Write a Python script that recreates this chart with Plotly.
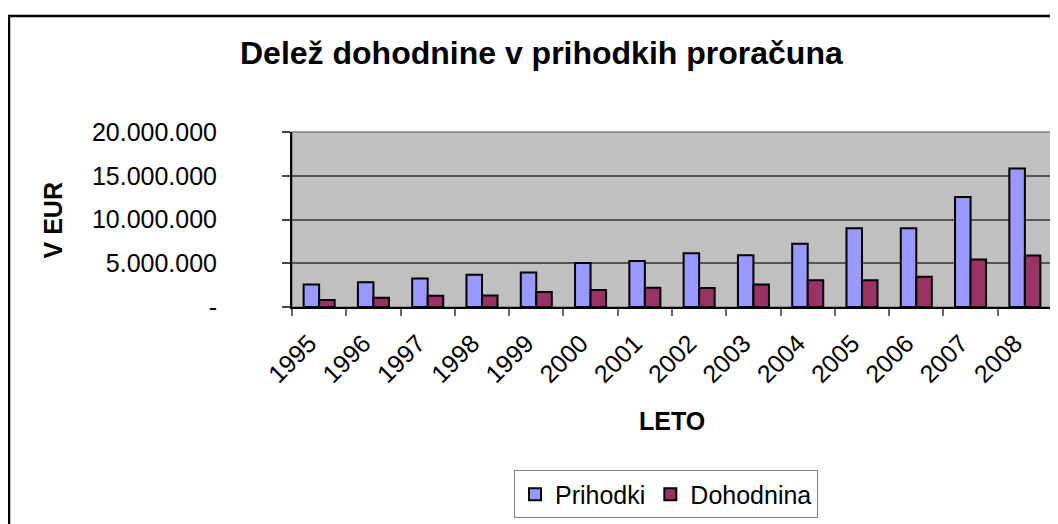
import plotly.graph_objects as go

# ---- data ----
years = ["1995", "1996", "1997", "1998", "1999", "2000", "2001",
         "2002", "2003", "2004", "2005", "2006", "2007", "2008"]
prihodki = [2570000, 2830000, 3270000, 3680000, 3930000, 5030000, 5250000,
            6140000, 5920000, 7240000, 9000000, 9000000, 12580000, 15820000]
dohodnina = [800000, 1060000, 1280000, 1300000, 1720000, 1940000, 2200000,
             2170000, 2570000, 3050000, 3050000, 3450000, 5440000, 5880000]
y_tickvals = [0, 5000000, 10000000, 15000000, 20000000]
y_ticktext = ["-", "5.000.000", "10.000.000", "15.000.000", "20.000.000"]

# ---- layout geometry ----
# the page body has an 8px margin, so the figure starts at page (8, 8)
OFF = 8
W, H = 1058 - OFF, 524 - OFF
# plot area in page pixels
PL, PR, PT, PB = 292, 1052, 132, 313
L, R, T, B = PL - OFF, PR - OFF, PT - OFF, PB - OFF


def px_x(page_x):
    return (page_x - OFF - L) / (R - L)


def px_y(page_y):
    return (B - (page_y - OFF)) / (B - T)


FONT = "Liberation Sans, Arial, sans-serif"
NB = "\u00a0\u00a0"
x_ticktext = [y + NB for y in years]

fig = go.Figure()
fig.add_trace(go.Bar(
    x=years, y=prihodki, name="Prihodki",
    marker=dict(color="#9999FF", line=dict(color="#000000", width=2)),
))
fig.add_trace(go.Bar(
    x=years, y=dohodnina, name="Dohodnina",
    marker=dict(color="#993366", line=dict(color="#000000", width=2)),
))

fig.update_layout(
    width=W, height=H,
    margin=dict(l=L, r=W - R, t=T, b=H - B, pad=0),
    paper_bgcolor="#FFFFFF",
    plot_bgcolor="#C0C0C0",
    barmode="group",
    bargap=0.4286,
    bargroupgap=0,
    font=dict(family=FONT, size=25, color="#000000"),
    showlegend=True,
    legend=dict(
        orientation="h",
        x=px_x(666), xanchor="center",
        y=px_y(482), yanchor="top",
        bgcolor="#FFFFFF",
        bordercolor="#808080", borderwidth=1,
        font=dict(family=FONT, size=25, color="#000000"),
        traceorder="normal",
        itemwidth=30,
    ),
    xaxis=dict(
        type="category",
        tickvals=years, ticktext=x_ticktext,
        showgrid=False,
        tickson="boundaries",
        ticks="outside", ticklen=7, tickcolor="#666666", tickwidth=1.5,
        showline=True, linecolor="#000000", linewidth=2,
        tickangle=-45,
        ticklabelstandoff=0,
        tickfont=dict(family=FONT, size=25, color="#000000"),
        automargin=False,
    ),
    yaxis=dict(
        range=[0, 20000000],
        tickvals=y_tickvals, ticktext=y_ticktext,
        showgrid=True, gridcolor="#555555", gridwidth=1.5,
        zeroline=False,
        ticks="outside", ticklen=8, tickcolor="#444444", tickwidth=1.5,
        showline=True, linecolor="#000000", linewidth=2,
        ticklabelstandoff=60,
        tickfont=dict(family=FONT, size=25, color="#000000"),
        automargin=False,
    ),
    shapes=[
        # plot area border (top / right in grey)
        dict(type="rect", xref="paper", yref="paper", x0=0, x1=1, y0=0, y1=1,
             line=dict(color="#808080", width=1.5), layer="below"),
        # outer chart frame (left and top edges visible)
        dict(type="rect", xref="paper", yref="paper",
             x0=px_x(9), x1=px_x(1058 + 20), y0=px_y(524 + 20), y1=px_y(12),
             line=dict(color="#000000", width=2.5), fillcolor="rgba(0,0,0,0)",
             layer="above"),
    ],
    annotations=[
        dict(text="Delež dohodnine v prihodkih proračuna",
             xref="paper", yref="paper", x=px_x(541), y=px_y(50),
             xanchor="center", yanchor="middle", showarrow=False,
             font=dict(family=FONT, size=32, color="#000000", weight="bold")),
        dict(text="V EUR", textangle=-90,
             xref="paper", yref="paper", x=px_x(52.5), y=px_y(224),
             xanchor="center", yanchor="middle", showarrow=False,
             font=dict(family=FONT, size=25, color="#000000", weight="bold")),
        dict(text="LETO",
             xref="paper", yref="paper", x=px_x(672), y=px_y(431),
             xanchor="center", yanchor="middle", showarrow=False,
             font=dict(family=FONT, size=25, color="#000000", weight="bold")),
    ],
)

fig.write_html("out.html")
